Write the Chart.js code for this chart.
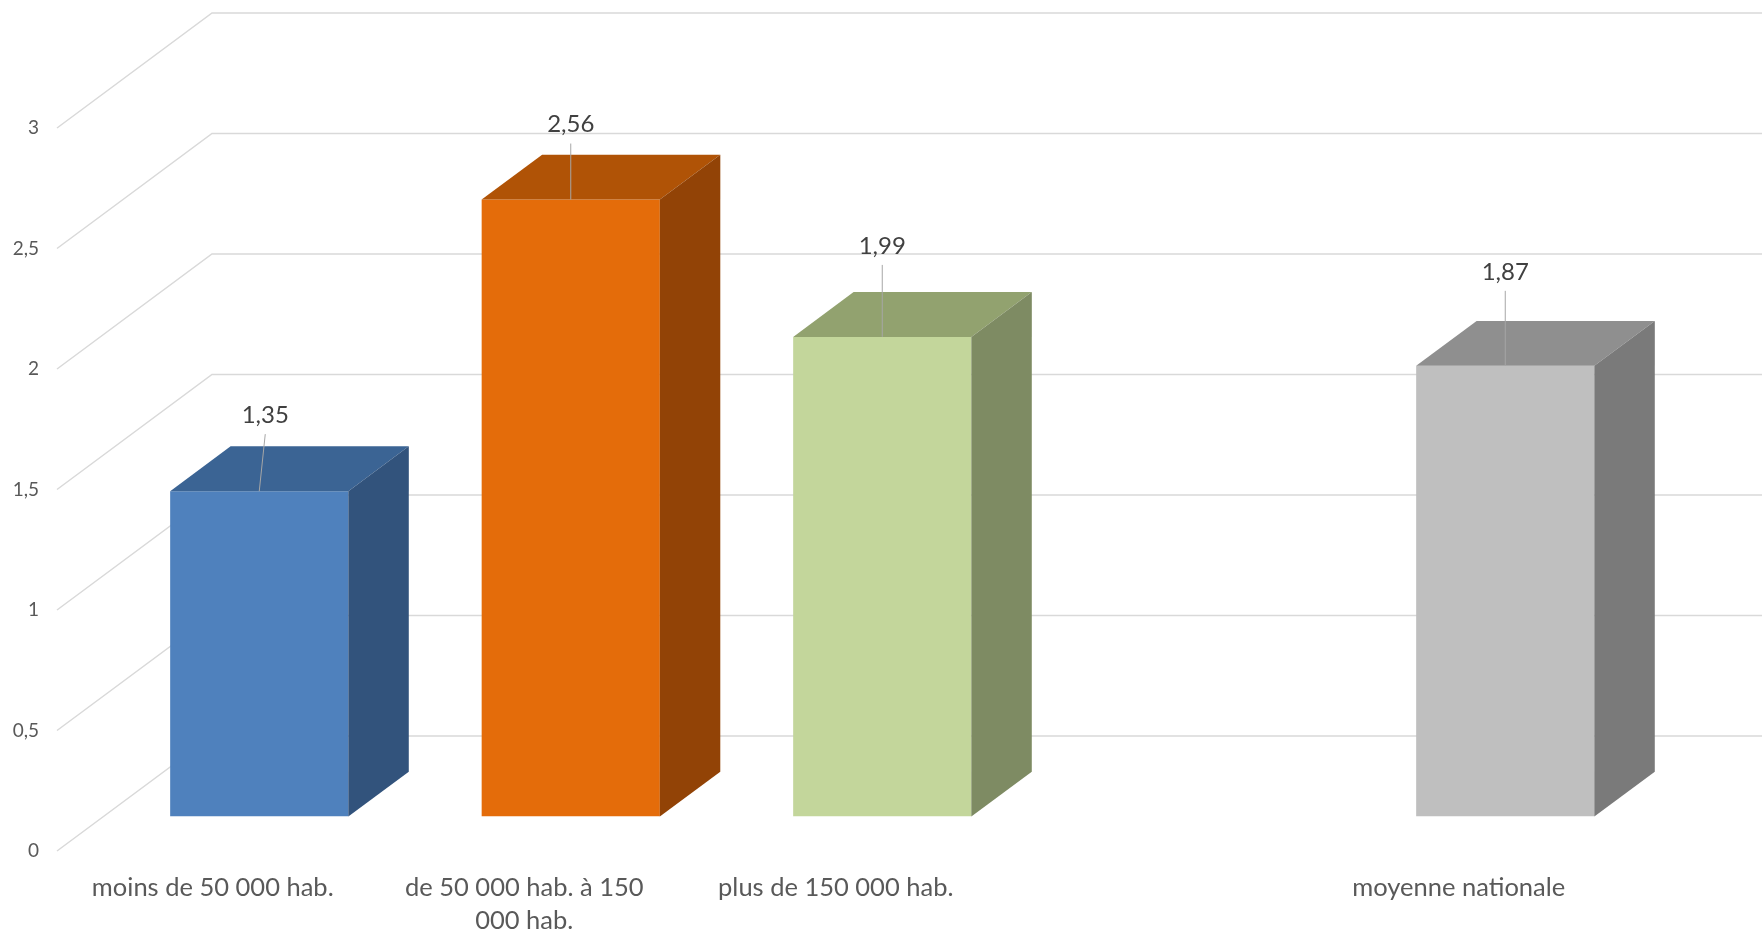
<!DOCTYPE html>
<html lang="fr">
<head>
<meta charset="utf-8">
<title>Graphique 3D</title>
<script src="https://cdn.jsdelivr.net/npm/chart.js@4.4.1/dist/chart.umd.min.js"></script>
<style>
  html, body { margin: 0; padding: 0; background: #fff; }
  #chart { display: block; }
</style>
</head>
<body>
<canvas id="chart" width="1762" height="933"></canvas>
<script>
// Données du graphique
const categories = [
  "moins de 50 000 hab.",
  ["de 50 000 hab. à 150", "000 hab."],
  "plus de 150 000 hab.",
  "",
  "moyenne nationale",
];
const values = [1.35, 2.56, 1.99, null, 1.87];
const yTicks = [0, 0.5, 1, 1.5, 2, 2.5, 3];

// Couleurs des faces (avant, dessus, côté)
const frontColors = ["#4F81BD", "#E46C0A", "#C3D69B", "#BFBFBF", "#BFBFBF"];
const topColors = ["#3B6494", "#B05306", "#92A26F", "#8F8F8F", "#8F8F8F"];
const sideColors = ["#32537C", "#924306", "#7E8B63", "#7A7A7A", "#7A7A7A"];

const fmt = (v) => String(v).replace(".", ",");
const FONT = "Lato, 'Liberation Sans', sans-serif";

// Plugin : murs en perspective + barres 3D + étiquettes
const bars3d = {
  id: "bars3d",
  beforeDatasetsDraw(chart, args, opts) {
    const { ctx, chartArea, scales } = chart;
    const [dx, dy] = opts.depth;
    ctx.save();
    ctx.strokeStyle = opts.gridColor;
    ctx.lineWidth = 1.5;
    yTicks.forEach((v) => {
      const py = scales.y.getPixelForValue(v);
      ctx.beginPath();
      ctx.moveTo(chartArea.left, py);
      ctx.lineTo(chartArea.left + dx, py + dy);
      ctx.lineTo(chart.width, py + dy);
      ctx.stroke();
    });
    ctx.restore();
    // les faces avant sont poussées vers le fond
    ctx.save();
    ctx.translate(dx * opts.front, dy * opts.front);
  },
  afterDatasetsDraw(chart, args, opts) {
    const { ctx } = chart;
    ctx.restore();
    const [dx, dy] = opts.depth;
    const fx = dx * opts.front, fy = dy * opts.front;
    const bx = dx * (opts.back - opts.front), by = dy * (opts.back - opts.front);
    const meta = chart.getDatasetMeta(0);
    meta.data.forEach((bar, i) => {
      if (values[i] == null) return;
      const { x, y, base, width } = bar.getProps(["x", "y", "base", "width"], true);
      const xL = x - width / 2 + fx, xR = x + width / 2 + fx;
      const yT = y + fy, yB = base + fy;
      ctx.save();
      // dessus
      ctx.fillStyle = topColors[i];
      ctx.beginPath();
      ctx.moveTo(xL, yT);
      ctx.lineTo(xL + bx, yT + by);
      ctx.lineTo(xR + bx, yT + by);
      ctx.lineTo(xR, yT);
      ctx.closePath();
      ctx.fill();
      // côté
      ctx.fillStyle = sideColors[i];
      ctx.beginPath();
      ctx.moveTo(xR, yT);
      ctx.lineTo(xR + bx, yT + by);
      ctx.lineTo(xR + bx, yB + by);
      ctx.lineTo(xR, yB);
      ctx.closePath();
      ctx.fill();
      // étiquette + trait de rappel
      const cx = x + fx;
      const lx = cx + opts.labelShift[i];
      const ly = yT - opts.labelLift[i];
      ctx.strokeStyle = "#A6A6A6";
      ctx.lineWidth = 1;
      ctx.beginPath();
      ctx.moveTo(cx, yT);
      ctx.lineTo(lx, ly + 19);
      ctx.stroke();
      ctx.fillStyle = "#404040";
      ctx.font = "24px " + FONT;
      ctx.textAlign = "center";
      ctx.textBaseline = "middle";
      ctx.fillText(fmt(values[i]), lx, ly);
      ctx.restore();
    });
  },
};

new Chart(document.getElementById("chart"), {
  type: "bar",
  data: {
    labels: categories,
    datasets: [
      {
        data: values,
        backgroundColor: frontColors,
        borderWidth: 0,
        barPercentage: 1,
        categoryPercentage: 0.572,
      },
    ],
  },
  options: {
    responsive: false,
    animation: false,
    layout: { padding: { top: 128, right: 147.5, left: 0, bottom: 0 } },
    plugins: {
      legend: { display: false },
      tooltip: { enabled: false },
      bars3d: {
        depth: [155, -115],
        front: 0.3,
        back: 0.69,
        gridColor: "#D9D9D9",
        labelLift: [76, 75, 91, 0, 94],
        labelShift: [6, 0, 0, 0, 0],
      },
    },
    scales: {
      x: {
        grid: { display: false, drawTicks: false },
        border: { display: false },
        ticks: {
          color: "#595959",
          font: { family: FONT, size: 25.5, lineHeight: 1.3 },
          padding: 20,
          maxRotation: 0,
          autoSkip: false,
        },
        afterFit: (s) => { s.height = 82; },
      },
      y: {
        min: 0,
        max: 3,
        grid: { display: false, drawTicks: false },
        border: { display: false },
        ticks: {
          stepSize: 0.5,
          padding: 18,
          color: "#595959",
          font: { family: FONT, size: 19 },
          callback: (v) => fmt(v),
        },
        afterFit: (s) => { s.width = 57; },
      },
    },
  },
  plugins: [bars3d],
});
</script>
</body>
</html>
